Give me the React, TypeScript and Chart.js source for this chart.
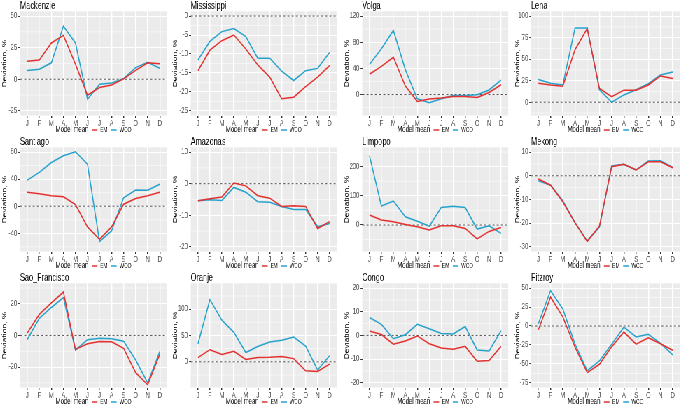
import React, { useEffect, useRef } from 'react';
import { Chart, registerables } from 'chart.js';

Chart.register(...registerables);

// ---------- data ----------
const months = ['J', 'F', 'M', 'A', 'M', 'J', 'J', 'A', 'S', 'O', 'N', 'D'];
const legendTitle = 'Model mean';
const seriesNames = ['EM', 'WCO'];
const yAxisTitle = 'Deviation, %';

const mackenzieEM = [14.2, 15.3, 28.7, 34.7, 12, -12.6, -6.6, -4.5, 0.3, 7, 13, 12.2];
const mackenzieWCO = [7, 8, 13, 42, 28.7, -15.8, -4, -3, 0.5, 9.2, 13.4, 8.7];
const mackenzieTicks = [-25, 0, 25, 50];
const mackenzieLimits = [-28.75, 53.75];

const mississippiEM = [-14.4, -9.0, -6.5, -5.0, -8.7, -12.9, -16.1, -21.8, -21.4, -18.6, -16.1, -13.1];
const mississippiWCO = [-11.6, -6.7, -4.1, -3.3, -5.4, -11.1, -11.1, -14.5, -17.0, -14.4, -13.8, -9.6];
const mississippiTicks = [-25, -20, -15, -10, -5, 0];
const mississippiLimits = [-26.25, 1.25];

const volgaEM = [31, 43, 57, 13, -10.5, -7, -5.5, -3, -3, -4.5, 3, 15];
const volgaWCO = [46, 70, 98, 38, -6.5, -12.5, -6.5, -1.5, -1.5, -0.5, 7, 22];
const volgaTicks = [0, 40, 80, 120];
const volgaLimits = [-32.25, 127.25];

const lenaEM = [22, 20, 18.5, 61, 85.5, 16, 6.5, 14, 14, 20, 30.5, 27.5];
const lenaWCO = [26.5, 22, 20, 86, 86, 14.5, 0, 8.5, 14.5, 21.5, 31.5, 35];
const lenaTicks = [0, 25, 50, 75, 100];
const lenaLimits = [-15.5, 105.5];

const santiagoEM = [20.5, 18.5, 15.5, 14, 2.5, -30.5, -49, -30.5, 3, 11.5, 15.5, 20.5];
const santiagoWCO = [38.5, 50, 64.5, 74.5, 80.5, 62, -52, -36.5, 12.5, 24, 23.5, 32.5];
const santiagoTicks = [-40, 0, 40, 80];
const santiagoLimits = [-67, 87];

const amazonasEM = [-5.4, -4.8, -4.2, 0.2, -0.7, -3.8, -4.6, -7.2, -7.0, -7.2, -14.2, -12.0];
const amazonasWCO = [-5.4, -5.1, -5.3, -1.2, -2.7, -5.7, -5.9, -7.2, -8.2, -8.2, -13.6, -12.6];
const amazonasTicks = [-20, -10, 0, 10];
const amazonasLimits = [-21.5, 11.5];

const limpopoEM = [34, 17, 11, 2, -6, -17, -3, -3, -12, -48, -22, -9];
const limpopoWCO = [238, 65, 82, 28, 13, -4, 60, 64, 60, -14, -3, -29];
const limpopoTicks = [0, 100, 200];
const limpopoLimits = [-91.25, 266.25];

const mekongEM = [-1.4, -4.0, -11.0, -19.8, -27.7, -21.2, 3.8, 4.8, 2.4, 5.9, 5.9, 3.4];
const mekongWCO = [-2.1, -4.0, -10.6, -19.8, -27.5, -21.6, 4.1, 4.8, 2.4, 6.2, 6.3, 3.5];
const mekongTicks = [-30, -20, -10, 0, 10];
const mekongLimits = [-32, 12];

const saoFranciscoEM = [1.5, 13.3, 20.6, 27.5, -8.8, -5.2, -3.8, -4.0, -8.2, -23.5, -31.2, -12.0];
const saoFranciscoWCO = [-2.5, 10.8, 17.7, 24, -9.3, -2.7, -1.7, -2.1, -3.6, -15.5, -30, -10.2];
const saoFranciscoTicks = [-20, 0, 20];
const saoFranciscoLimits = [-33, 33];

const oranjeEM = [8, 23, 14, 20, 4.5, 8, 8.5, 10, 6, -17, -18.5, -4.5];
const oranjeWCO = [34, 118, 79, 56, 17.5, 29, 37.5, 41, 47, 30, -15.5, 11.5];
const oranjeTicks = [0, 50, 100];
const oranjeLimits = [-49, 149];

const congoEM = [1.9, 0.4, -3.7, -2.3, -0.2, -3.5, -5.3, -5.8, -4.6, -10.9, -10.6, -4.6];
const congoWCO = [7.6, 4.7, -1.4, 0.3, 4.7, 2.8, 0.8, 0.6, 3.8, -6.1, -6.6, 2.0];
const congoTicks = [-20, -10, 0, 10, 20];
const congoLimits = [-22, 22];

const fitzroyEM = [-5, 38, 12, -28, -61.5, -50.5, -27.5, -8, -24, -15.5, -23.5, -32];
const fitzroyWCO = [3, 46.5, 22.5, -24, -59, -46, -24, -1.5, -14.5, -11, -23, -38];
const fitzroyTicks = [-75, -50, -25, 0, 25, 50];
const fitzroyLimits = [-81.25, 56.25];

const panels = [
  { name: 'Mackenzie', em: mackenzieEM, wco: mackenzieWCO, ticks: mackenzieTicks, lim: mackenzieLimits },
  { name: 'Mississippi', em: mississippiEM, wco: mississippiWCO, ticks: mississippiTicks, lim: mississippiLimits },
  { name: 'Volga', em: volgaEM, wco: volgaWCO, ticks: volgaTicks, lim: volgaLimits },
  { name: 'Lena', em: lenaEM, wco: lenaWCO, ticks: lenaTicks, lim: lenaLimits },
  { name: 'Santiago', em: santiagoEM, wco: santiagoWCO, ticks: santiagoTicks, lim: santiagoLimits },
  { name: 'Amazonas', em: amazonasEM, wco: amazonasWCO, ticks: amazonasTicks, lim: amazonasLimits },
  { name: 'Limpopo', em: limpopoEM, wco: limpopoWCO, ticks: limpopoTicks, lim: limpopoLimits },
  { name: 'Mekong', em: mekongEM, wco: mekongWCO, ticks: mekongTicks, lim: mekongLimits },
  { name: 'Sao_Francisco', em: saoFranciscoEM, wco: saoFranciscoWCO, ticks: saoFranciscoTicks, lim: saoFranciscoLimits },
  { name: 'Oranje', em: oranjeEM, wco: oranjeWCO, ticks: oranjeTicks, lim: oranjeLimits },
  { name: 'Congo', em: congoEM, wco: congoWCO, ticks: congoTicks, lim: congoLimits },
  { name: 'Fitzroy', em: fitzroyEM, wco: fitzroyWCO, ticks: fitzroyTicks, lim: fitzroyLimits },
];

// ---------- layout / style ----------
const SQ = 0.7; // horizontal squash of the whole figure
const FONT = '"Liberation Sans", Arial, sans-serif';
const RED = '#E3312F';
const BLUE = '#27A2CC';
const colLeft = [0, 171, 342, 513];
const grayLeft = [20, 20, 20, 18];
const grayRight = [167, 166, 166, 167];
const rowTop = [0, 136, 272];
const CW = 245;
const CH = 136;

function Panel({ p, col, row }: any) {
  const ref = useRef<HTMLCanvasElement | null>(null);
  useEffect(() => {
    const canvas = ref.current;
    if (!canvas) return;
    const yw = grayLeft[col] / SQ;
    const rp = CW - grayRight[col] / SQ;
    const step = p.ticks[1] - p.ticks[0];
    const minor: number[] = [];
    for (let v = p.ticks[0] - step / 2; v <= p.ticks[p.ticks.length - 1] + step; v += step) minor.push(v);

    const gg = {
      id: 'gg' + p.name,
      beforeDraw(chart: any) {
        const { ctx, chartArea: a, scales } = chart;
        ctx.save();
        ctx.fillStyle = '#FFFFFF';
        ctx.fillRect(0, 0, chart.width, chart.height);
        ctx.fillStyle = '#EBEBEB';
        ctx.fillRect(a.left, a.top, a.right - a.left, a.bottom - a.top);
        ctx.strokeStyle = '#FFFFFF';
        ctx.lineWidth = 0.55;
        for (const v of minor) {
          const py = scales.y.getPixelForValue(v);
          if (py < a.top || py > a.bottom) continue;
          ctx.beginPath();
          ctx.moveTo(a.left, py);
          ctx.lineTo(a.right, py);
          ctx.stroke();
        }
        ctx.restore();
      },
      beforeDatasetsDraw(chart: any) {
        const { ctx, chartArea: a, scales } = chart;
        const py = scales.y.getPixelForValue(0);
        ctx.save();
        ctx.strokeStyle = '#555555';
        ctx.lineWidth = 1;
        ctx.setLineDash([3, 3]);
        ctx.beginPath();
        ctx.moveTo(a.left, py);
        ctx.lineTo(a.right, py);
        ctx.stroke();
        ctx.restore();
      },
      afterDraw(chart: any) {
        const { ctx, chartArea: a } = chart;
        ctx.save();
        ctx.fillStyle = '#000000';
        ctx.textBaseline = 'middle';
        ctx.textAlign = 'left';
        ctx.font = `10.5px ${FONT}`;
        ctx.fillText(p.name, a.left, 6.5);
        // legend
        const ly = 130;
        const tf = `8.5px ${FONT}`;
        const sf = `7px ${FONT}`;
        ctx.font = tf;
        const tw = ctx.measureText(legendTitle).width;
        ctx.font = sf;
        const w1 = ctx.measureText(seriesNames[0]).width;
        const w2 = ctx.measureText(seriesNames[1]).width;
        const keyW = 8;
        const total = tw + 5 + keyW + 4 + w1 + 5 + keyW + 4 + w2;
        let x = (a.left + a.right) / 2 - total / 2;
        ctx.font = tf;
        ctx.fillText(legendTitle, x, ly);
        x += tw + 5;
        ctx.lineWidth = 1.5;
        ctx.strokeStyle = RED;
        ctx.beginPath(); ctx.moveTo(x, ly); ctx.lineTo(x + keyW, ly); ctx.stroke();
        x += keyW + 4;
        ctx.font = sf;
        ctx.fillText(seriesNames[0], x, ly);
        x += w1 + 5;
        ctx.strokeStyle = BLUE;
        ctx.beginPath(); ctx.moveTo(x, ly); ctx.lineTo(x + keyW, ly); ctx.stroke();
        x += keyW + 4;
        ctx.fillText(seriesNames[1], x, ly);
        ctx.restore();
      },
    };

    const chart = new Chart(canvas, {
      type: 'line',
      data: {
        datasets: [
          { label: seriesNames[0], data: p.em.map((v: number, i: number) => ({ x: i + 1, y: v })), borderColor: RED, borderWidth: 1.5, pointRadius: 0, tension: 0, fill: false },
          { label: seriesNames[1], data: p.wco.map((v: number, i: number) => ({ x: i + 1, y: v })), borderColor: BLUE, borderWidth: 1.5, pointRadius: 0, tension: 0, fill: false },
        ],
      },
      options: {
        animation: false,
        responsive: false,
        devicePixelRatio: 1,
        layout: { padding: { top: 11.3, right: rp, bottom: 0, left: 0 } },
        plugins: { legend: { display: false }, tooltip: { enabled: false }, title: { display: false } },
        scales: {
          x: {
            type: 'linear',
            min: 0.4,
            max: 12.6,
            afterBuildTicks: (s: any) => { s.ticks = months.map((_, i) => ({ value: i + 1 })); },
            afterFit: (s: any) => { s.height = CH - 115.6; },
            ticks: {
              callback: (v: any) => months[Math.round(Number(v)) - 1] ?? '',
              font: { family: FONT, size: 8.5 },
              color: '#4D4D4D',
              padding: 0.5,
              maxRotation: 0,
              autoSkip: false,
            },
            grid: { color: '#FFFFFF', lineWidth: 1.4, tickColor: '#333333', tickLength: 2.5, tickWidth: 1.4 },
            border: { display: false },
          },
          y: {
            type: 'linear',
            min: p.lim[0],
            max: p.lim[1],
            afterBuildTicks: (s: any) => { s.ticks = p.ticks.map((v: number) => ({ value: v })); },
            afterFit: (s: any) => { s.width = yw; },
            ticks: {
              callback: (v: any) => String(v),
              font: { family: FONT, size: 8.5 },
              color: '#4D4D4D',
              padding: 1.5,
              autoSkip: false,
            },
            grid: { color: '#FFFFFF', lineWidth: 1, tickColor: '#333333', tickLength: 2.5, tickWidth: 1 },
            border: { display: false },
            title: { display: true, text: yAxisTitle, font: { family: FONT, size: 8.5 }, color: '#000000', padding: { top: 1.5, bottom: 0 } },
          },
        },
      } as any,
      plugins: [gg as any],
    });
    return () => chart.destroy();
  }, [p, col, row]);

  return (
    <canvas
      ref={ref}
      width={CW}
      height={CH}
      style={{ position: 'absolute', left: colLeft[col] / SQ, top: rowTop[row], width: CW, height: CH, display: 'block' }}
    />
  );
}

export default function App() {
  useEffect(() => {
    document.body.style.overflow = 'hidden';
  }, []);
  return (
    <div
      style={{
        position: 'absolute',
        left: 0,
        top: 0,
        width: 685 / SQ,
        height: 407,
        background: '#FFFFFF',
        transform: `scaleX(${SQ})`,
        transformOrigin: '0 0',
        overflow: 'hidden',
      }}
    >
      {panels.map((p, i) => (
        <Panel key={p.name} p={p} col={i % 4} row={Math.floor(i / 4)} />
      ))}
    </div>
  );
}
